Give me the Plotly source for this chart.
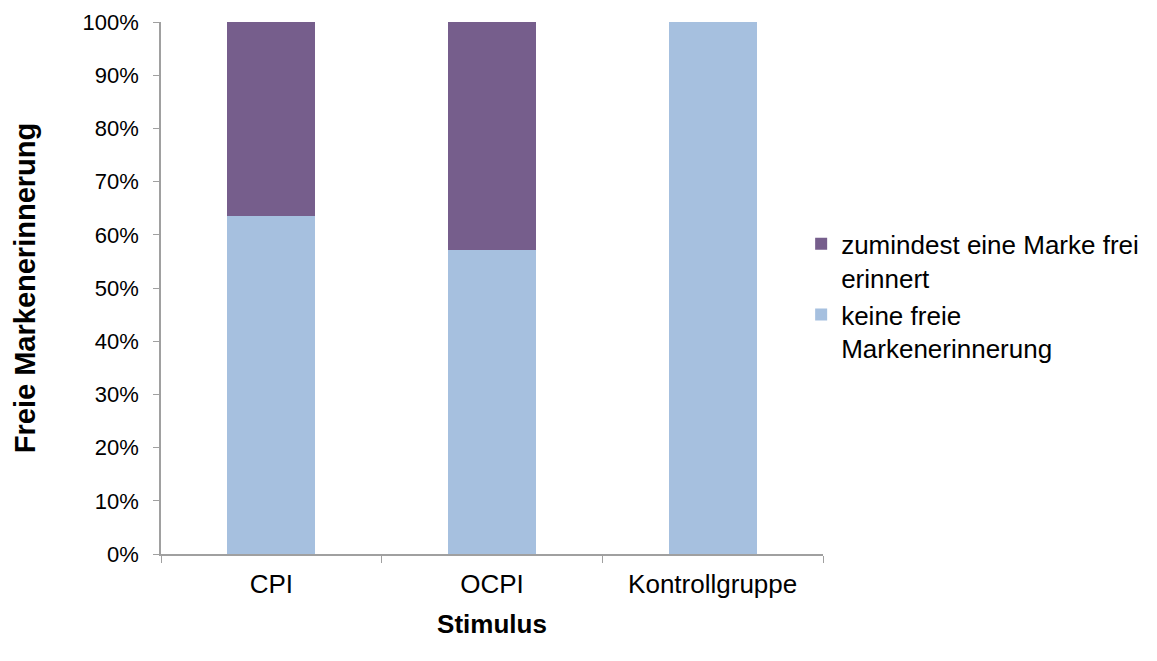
import plotly.graph_objects as go

categories = ["CPI", "OCPI", "Kontrollgruppe"]
keine = [0.636, 0.571, 1.0]
zumindest = [0.364, 0.429, 0.0]
series_names = ["keine freie<br>Markenerinnerung", "zumindest eine Marke frei<br>erinnert"]
colors = ["#A6C0DF", "#765E8C"]
yticks = [i / 10 for i in range(11)]
ytick_labels = [f"{i*10}%" for i in range(11)]

FONT = "Liberation Sans, Arial, sans-serif"

fig = go.Figure()
fig.add_trace(go.Bar(x=categories, y=keine, name=series_names[0], marker_color=colors[0],
                     marker_line_width=0, width=0.4))
fig.add_trace(go.Bar(x=categories, y=zumindest, name=series_names[1], marker_color=colors[1],
                     marker_line_width=0, width=0.4))

fig.update_layout(
    barmode="stack",
    width=1149, height=653,
    margin=dict(l=153, r=334, t=14, b=107),
    plot_bgcolor="white", paper_bgcolor="white",
    font=dict(family=FONT, color="#000000"),
    showlegend=True,
    legend=dict(traceorder="reversed", x=0.967, xanchor="left", y=0.627, yanchor="top",
                valign="top", font=dict(size=26, family=FONT), tracegroupgap=4),
    xaxis=dict(
        title=dict(text="<b>Stimulus</b>", font=dict(size=26), standoff=17),
        tickfont=dict(size=26), showline=True, linecolor="#A0A0A0", linewidth=1.5,
        ticks="outside", tickson="boundaries", ticklen=7, tickcolor="#A0A0A0",
        ticklabelstandoff=6, automargin=False,
        showgrid=False, range=[-0.5, 2.5],
    ),
    yaxis=dict(
        title=dict(text="<b>Freie Markenerinnerung</b>", font=dict(size=29), standoff=38),
        tickvals=yticks, ticktext=ytick_labels, tickfont=dict(size=22),
        ticklabelstandoff=10, automargin=False,
        range=[0, 1], showline=True, linecolor="#A0A0A0", linewidth=1.5,
        ticks="outside", ticklen=6, tickcolor="#A0A0A0", showgrid=False, zeroline=False,
    ),
)

fig.write_html("out.html")
